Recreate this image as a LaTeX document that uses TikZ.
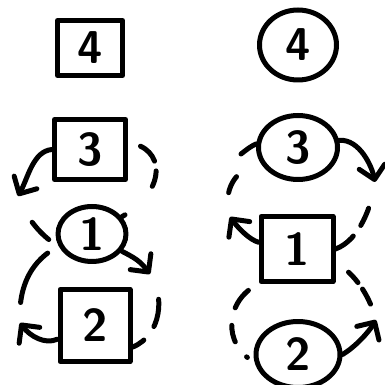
\documentclass[tikz,border=0pt]{standalone}
\usepackage{tikz}
\usetikzlibrary{arrows.meta,positioning,shapes.geometric}

\begin{document}
\begin{tikzpicture}[x=1pt,y=1pt,line width=5pt,line cap=round,line join=round,
    every node/.style={font=\fontsize{46}{46}\selectfont\sffamily\bfseries,inner sep=0pt},
    sq/.style={draw,rectangle},
    rnd/.style={draw,ellipse},
    swaparrow/.style={-{Straight Barb[length=13pt,width=26pt,round]}}]
  \useasboundingbox (0,0) rectangle (385,385);
  % left column
  \node[sq,minimum width=65pt,minimum height=55pt] (b4) at (90,337) {4};
  \node[sq,minimum width=71pt,minimum height=60pt,below=39pt of b4] (b3) {3};
  \node[rnd,minimum width=68pt,minimum height=55pt,below=22pt of b3,xshift=2pt] (e1) {1};
  \node[sq,minimum width=70pt,minimum height=72pt,below=23pt of e1,xshift=3pt] (b2) {2};
  % right column
  \node[rnd,minimum width=77pt,minimum height=70pt] (c4) at (298,340) {4};
  \node[rnd,minimum width=79pt,minimum height=64pt,below=30.5pt of c4] (c3) {3};
  \node[sq,minimum width=72pt,minimum height=65pt,below=32pt of c3,xshift=-1pt] (r1) {1};
  \node[rnd,minimum width=84pt,minimum height=66pt,below=35pt of r1,xshift=1pt] (c2) {2};

  \coordinate (tA) at (18,189);
  \coordinate (tB) at (150,111);
  \coordinate (tC) at (20,62);
  \coordinate (tD) at (375,203);
  \coordinate (tE) at (241,231);
  \coordinate (tF) at (230,168);
  \coordinate (tG) at (376,65);

  % left swaps
  \draw[swaparrow] (b3.west) .. controls (33,234) and (28,207) .. (tA);
  \draw[dash pattern=on 21pt off 10pt on 16pt off 40pt on 14pt off 100pt,dash phase=188pt]
       (b3.10) .. controls (165,238) and (168,195) .. (e1.30);
  \draw[dash pattern=on 24pt off 200pt,dash phase=194pt]
       (tA) .. controls (22,175) and (38,150) .. (e1.200);
  \draw[swaparrow] (e1.330) .. controls (135,127) and (140,124) .. (tB);
  \draw[dash pattern=on 28pt off 17pt on 15pt off 100pt,dash phase=133pt]
       (tB) .. controls (165,90) and (162,50) .. (b2.330);
  \draw[dash pattern=on 58pt off 200pt,dash phase=245pt]
       (e1.200) .. controls (32,125) and (18,100) .. (tC);
  \draw[swaparrow] (b2.200) .. controls (45,40) and (30,49) .. (tC);

  % right swaps
  \draw (c3.175) .. controls (250,238) .. (tE);
  \draw[dash pattern=on 18pt off 210pt,dash phase=200pt]
       (c3.200) .. controls (235,215) and (222,195) .. (tF);
  \draw[swaparrow] (r1.170) .. controls (250,145) and (239,156) .. (tF);
  \draw[swaparrow] (c3.10) .. controls (360,246) and (372,218) .. (tD);
  \draw[dash pattern=on 19pt off 13pt on 23pt off 100pt,dash phase=128pt]
       (tD) .. controls (372,180) and (360,145) .. (r1.east);
  \draw[dash pattern=on 14pt off 8pt on 17pt off 100pt,dash phase=123pt]
       (r1.340) .. controls (350,115) and (368,95) .. (tG);
  \draw[swaparrow] (c2.east) .. controls (355,38) and (368,52) .. (tG);
  \draw[dash pattern=on 22pt off 18pt on 17pt off 19pt on 1pt off 100pt,dash phase=165pt]
       (r1.south west) .. controls (225,85) and (222,40) .. (c2.190);
\end{tikzpicture}
\end{document}
